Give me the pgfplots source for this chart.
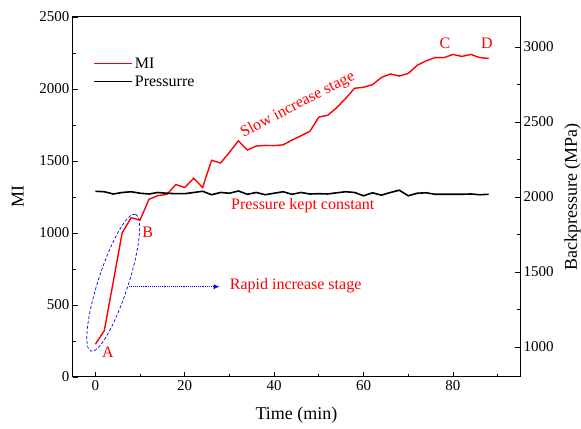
\documentclass[border=0pt]{standalone}
\usepackage{fontspec}
\setmainfont{Liberation Serif}
\usepackage{pgfplots}
\pgfplotsset{compat=1.18}
\usetikzlibrary{arrows.meta}

\pgfplotstableread{
t mi
0 227
2 322
4 660
6 1002
8 1106
10 1090
12 1234
14 1260
16 1268
18 1336
20 1316
22 1380
24 1316
26 1505
28 1486
30 1560
32 1640
34 1576
36 1604
38 1608
40 1607
42 1612
44 1645
46 1675
48 1706
50 1805
52 1818
54 1870
56 1935
58 2005
60 2012
62 2030
64 2080
66 2104
68 2090
70 2108
72 2165
74 2195
76 2218
78 2218
80 2240
82 2226
84 2240
86 2218
88 2212
}\midata

\pgfplotstableread{
t p
0 2038
2 2035
4 2020
6 2030
8 2035
10 2025
12 2020
14 2030
16 2025
18 2022
20 2022
22 2030
24 2038
26 2015
28 2030
30 2025
32 2040
34 2018
36 2030
38 2015
40 2025
42 2035
44 2018
46 2030
48 2020
50 2022
52 2020
54 2028
56 2035
58 2030
60 2008
62 2028
64 2012
66 2030
68 2045
70 2008
72 2025
74 2028
76 2018
78 2018
80 2018
82 2018
84 2020
86 2015
88 2018
}\pdata

\pgfplotsset{
  common/.style={
    width=447pt, height=360pt, scale only axis,
    xmin=-5, xmax=95,
    tick align=inside,
    major tick length=5pt, minor tick length=3pt,
    tick style={black, line width=0.8pt},
    axis line style={line width=1pt},
    ticklabel style={font=\fontsize{15}{15}\selectfont},
    label style={font=\fontsize{18}{18}\selectfont},
    /pgf/number format/assume math mode=true,
    /pgf/number format/1000 sep={},
  }
}

\begin{document}
\begin{tikzpicture}
\begin{axis}[common, name=ax,
  ymin=0, ymax=2500,
  xtick={0,20,...,80}, minor xtick={10,30,...,90},
  ytick={0,500,...,2500}, minor ytick={250,750,...,2250},
  xtick pos=bottom, ytick pos=left,
  xlabel={Time (min)}, ylabel={MI},
  xlabel shift=10pt, ylabel shift=9pt,
  legend style={draw=none, fill=none, at={(0.045,0.893)}, anchor=north west,
    font=\fontsize{16}{16}\selectfont, row sep=2pt, inner sep=0pt},
  legend cell align=left,
  legend image code/.code={\draw[#1] (0pt,0pt) -- (38pt,0pt);},
]
\addplot[red, line width=1.4pt] table[x=t, y=mi] {\midata};
\addlegendentry{MI}
\addlegendimage{black, line width=1.6pt}
\addlegendentry{Pressurre}

\draw[blue, densely dashed, line width=0.7pt, rotate around={72:(axis cs:4,655)}]
  (axis cs:4,655) ellipse [x radius=72pt, y radius=15pt];
\draw[blue, densely dotted, line width=0.9pt, -{Latex[length=6pt,width=5pt]}]
  (axis cs:7.6,627) -- (axis cs:27.8,627);

\begin{scope}[every node/.style={text=red, font=\fontsize{16}{16}\selectfont}]
\node at (axis cs:2.8,175) {A};
\node at (axis cs:11.7,1007) {B};
\node at (axis cs:78.2,2319) {C};
\node at (axis cs:87.6,2319) {D};
\node at (axis cs:44.8,632) {Rapid increase stage};
\node at (axis cs:46.4,1188) {Pressure kept constant};
\node[rotate=27.5] at (axis cs:45.3,1890) {Slow increase stage};
\end{scope}
\end{axis}

\begin{axis}[common,
  ymin=800, ymax=3200,
  axis x line=none, axis y line*=right,
  ytick={1000,1500,...,3000}, minor ytick={1250,1750,...,2750},
  ylabel={Backpressure (MPa)}, ylabel shift=4pt,
]
\addplot[black, line width=1.6pt] table[x=t, y=p] {\pdata};
\end{axis}

\pgfresetboundingbox
\path[use as bounding box] ([shift={(-73pt,-52pt)}]ax.south west) rectangle ([shift={(61pt,17pt)}]ax.north east);
\end{tikzpicture}
\end{document}
